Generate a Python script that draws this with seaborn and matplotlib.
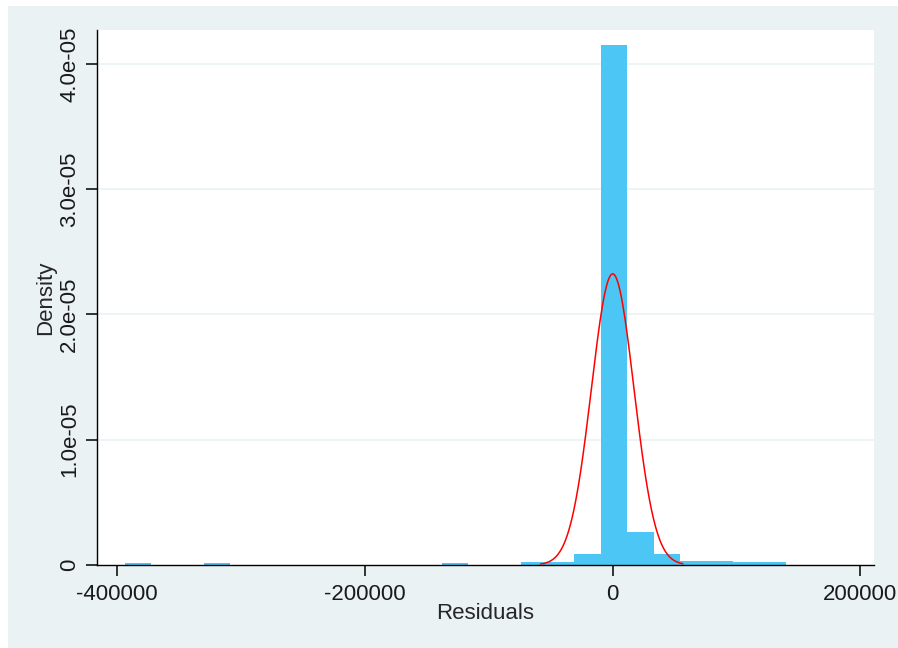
import numpy as np
import pandas as pd
import matplotlib.pyplot as plt
import matplotlib.patches as mpatches
import seaborn as sns

# Histogram of residuals (density per bin)
bin_start = -394000
bin_width = 21350
density = [1.3e-7, 0, 0, 1.3e-7, 0, 0, 0, 0, 0, 0,
           0, 0, 1.3e-7, 0, 0, 2.2e-7, 2.2e-7, 8.8e-7, 4.15e-5, 2.62e-6,
           8.8e-7, 3.0e-7, 3.0e-7, 2.2e-7, 2.2e-7]

# Normal overlay parameters
norm_mean = 0
norm_sd = 17170
curve_range = (-58200, 56600)

x_ticks = [-400000, -200000, 0, 200000]
x_ticklabels = ['-400000', '-200000', '0', '200000']
y_ticks = [0, 1e-5, 2e-5, 3e-5, 4e-5]
y_ticklabels = ['0', '1.0e-05', '2.0e-05', '3.0e-05', '4.0e-05']

bg = '#EAF2F3'
bar_color = '#4CC6F4'

sns.set_style('white')
plt.rcParams['font.family'] = ['Liberation Sans', 'DejaVu Sans']

# Build dataframes
edges = bin_start + bin_width * np.arange(len(density) + 1)
df_hist = pd.DataFrame({'center': edges[:-1] + bin_width / 2, 'density': density})
xs = np.linspace(curve_range[0], curve_range[1], 200)
df_curve = pd.DataFrame({'x': xs,
                         'y': np.exp(-0.5 * ((xs - norm_mean) / norm_sd) ** 2) / (norm_sd * np.sqrt(2 * np.pi))})

fig = plt.figure(figsize=(8.98, 6.48), dpi=100)
fig.patch.set_facecolor('white')
fig.patches.append(mpatches.Rectangle((8 / 898, 0), 1, (648 - 6) / 648,
                                      transform=fig.transFigure, facecolor=bg,
                                      edgecolor='none', zorder=-10))

ax = fig.add_axes([97 / 898, (648 - 565) / 648, (874 - 97) / 898, (565 - 30) / 648])
ax.set_facecolor('white')
ax.set_zorder(1)

# Histogram bars
sns.histplot(data=df_hist, x='center', weights='density',
             binwidth=bin_width, binrange=(edges[0], edges[-1]),
             stat='count', color=bar_color, alpha=1, edgecolor='none',
             linewidth=0, ax=ax, zorder=2)

# Normal density line
sns.lineplot(data=df_curve, x='x', y='y', color='red', linewidth=1.1, ax=ax, zorder=3)

ax.set_xlim(-416200, 210900)
ax.set_ylim(0, 4.27e-5)

ax.set_xticks(x_ticks)
ax.set_xticklabels(x_ticklabels, fontsize=16)
ax.set_yticks(y_ticks)
ax.set_yticklabels(y_ticklabels, fontsize=16, rotation=90, va='center')

# Horizontal grid lines
for yv in y_ticks[1:]:
    ax.axhline(yv, color=bg, linewidth=1.2, zorder=1)

for side in ['top', 'right']:
    ax.spines[side].set_visible(False)
for side in ['left', 'bottom']:
    ax.spines[side].set_color('black')
    ax.spines[side].set_linewidth(1.0)

ax.tick_params(axis='both', direction='out', length=8, width=1.1, color='black',
               labelcolor='#1a1a1a', bottom=True, left=True)
ax.tick_params(axis='x', pad=6)
ax.tick_params(axis='y', pad=4)

ax.set_xlabel('Residuals', fontsize=16, labelpad=-2)
ax.set_ylabel('Density', fontsize=16, labelpad=2)

plt.savefig('out.png', dpi=100, facecolor=fig.get_facecolor())
